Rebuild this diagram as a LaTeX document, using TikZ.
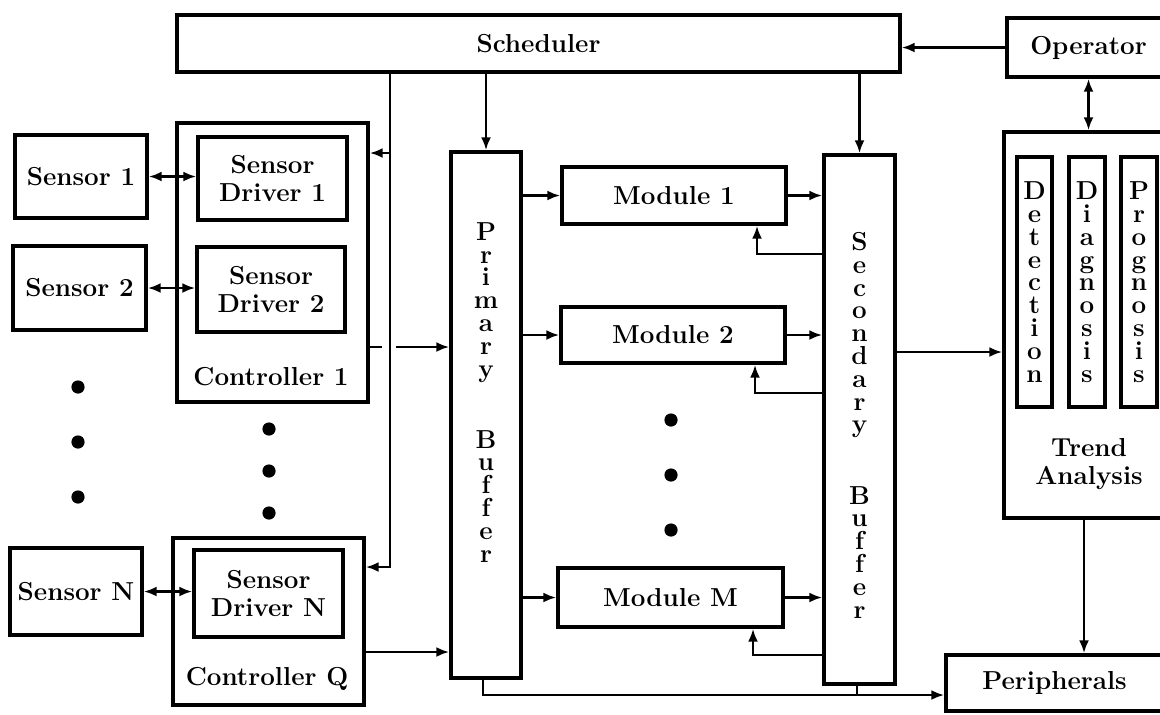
\documentclass[tikz,border=0pt]{standalone}
\usepackage{fontspec}
\usetikzlibrary{arrows.meta}

\begin{document}
\begin{tikzpicture}[x=0.5pt,y=-0.5pt,
  box/.style={draw,line width=1.7pt,inner sep=0pt,align=center},
  arr/.style={line width=1.4pt,-{Latex[length=6.5pt,width=5pt]}},
  dblarr/.style={line width=1.4pt,{Latex[length=6.5pt,width=5pt]}-{Latex[length=6.5pt,width=5pt]}},
  wire/.style={line width=1.4pt},
  lbl/.style={font=\fontsize{13}{14}\selectfont\bfseries},
  column/.style={font=\fontsize{13}{11.4}\selectfont\bfseries,align=center,inner sep=0pt}]
\useasboundingbox (0,0) rectangle (1160,714);
\clip (0,0) rectangle (1160,714);

% boxes
\foreach \name/\xa/\ya/\xb/\yb/\txt in {
	sch/177/15/900/72/Scheduler,
	op/1007/18/1170/77/Operator,
	s1/15/135/147/218/Sensor 1,
	s2/13/246/146/330/Sensor 2,
	sn/10/548/142/635/Sensor N,
	ctl1/177/123/368/402/,
	ctlq/173/538/364/705/,
	drv1/198/137/347/220/{Sensor\\Driver 1},
	drv2/197/247/345/332/{Sensor\\Driver 2},
	drvn/194/550/343/637/{Sensor\\Driver N},
	prim/451/152/521/678/,
	sec/824/155/895/684/,
	mod1/562/167/786/224/Module 1,
	mod2/561/307/785/363/Module 2,
	modm/558/568/783/627/Module M,
	trend/1004/132/1180/518/,
	peri/946/655/1163/711/Peripherals%
	}{
	\node[box,lbl,minimum width={(\xb-\xa)*0.5pt},minimum height={(\yb-\ya)*0.5pt}] (\name) at ({(\xa+\xb)/2},{(\ya+\yb)/2}) {\txt};
	}

% trend analysis columns
\foreach \name/\xa/\xb/\txt in {
	det/1017/1052/{D\\e\\t\\e\\c\\t\\i\\o\\n},
	diag/1069/1105/{D\\i\\a\\g\\n\\o\\s\\i\\s},
	prog/1121/1157/{P\\r\\o\\g\\n\\o\\s\\i\\s}%
	}{
	\node[box,column,minimum width={(\xb-\xa)*0.5pt},minimum height=125pt] (\name) at ({(\xa+\xb)/2},282) {\txt};
	}

\node[column,anchor=north] (primtxt) at (486,222) {P\\r\\i\\m\\a\\r\\y\\[23pt]B\\u\\f\\f\\e\\r};
\node[column,anchor=north] (sectxt) at (859.5,232) {S\\e\\c\\o\\n\\d\\a\\r\\y\\[23pt]B\\u\\f\\f\\e\\r};
\node[lbl,anchor=base] (ctl1lbl) at (271,385) {Controller 1};
\node[lbl,anchor=base] (ctlqlbl) at (267,685) {Controller Q};
\node[lbl,align=center] (trendlbl) at (1089,464) {Trend\\Analysis};

% dots
\foreach \x/\y in {78/387,78/442,78/497,269/429,269/471,269/513,671/420,671/475,671/530}
	\fill (\x,\y) circle[radius=3.3pt];

% operator
\draw[arr] (op.west) -- (op.west -| sch.east);
\draw[dblarr] (op.south) -- (op.south |- trend.north);

% sensors and drivers
\foreach \s/\d in {s1/drv1,s2/drv2,sn/drvn}
	\draw[dblarr] (\s.east) -- (\s.east -| \d.west);

% controllers to primary buffer
\coordinate (hop) at (390,347);
\coordinate (cq) at (390,652);
\draw[arr] (hop -| ctl1.east) -- (hop -| prim.west);
\draw[arr] (cq -| ctlq.east) -- (cq -| prim.west);
\fill[white] ([xshift=-4pt,yshift=-3pt]hop) rectangle ([xshift=3pt,yshift=3pt]hop);

% scheduler
\coordinate (vl) at (390,153);
\coordinate (vq) at (390,567);
\draw[arr] (vl |- sch.south) -- (vq) -- (vq -| ctlq.east);
\draw[arr] (vl) -- (vl -| ctl1.east);
\draw[arr] (sch.south -| prim.north) -- (prim.north);
\draw[arr] (sch.south -| sec.north) -- (sec.north);

% modules
\foreach \m in {mod1,mod2,modm}{
	\draw[arr] (prim.east |- \m.west) -- (\m.west);
	\draw[arr] (\m.east) -- (\m.east -| sec.west);
	}
\foreach \m/\x/\y in {mod1/757/254,mod2/755/393,modm/753/655}{
	\coordinate (fb) at (\x,\y);
	\draw[arr] (fb -| sec.west) -- (fb) -- (fb |- \m.south);
	}

% outputs
\coordinate (st) at (950,352);
\draw[arr] (st -| sec.east) -- (st -| trend.west);
\coordinate (tp) at (1084,600);
\draw[arr] (tp |- trend.south) -- (tp |- peri.north);
\coordinate (bus) at (483,695);
\coordinate (sb) at (857,695);
\draw[arr] (bus |- prim.south) -- (bus) -- (bus -| peri.west);
\draw[wire] (sb |- sec.south) -- (sb);
\end{tikzpicture}
\end{document}
